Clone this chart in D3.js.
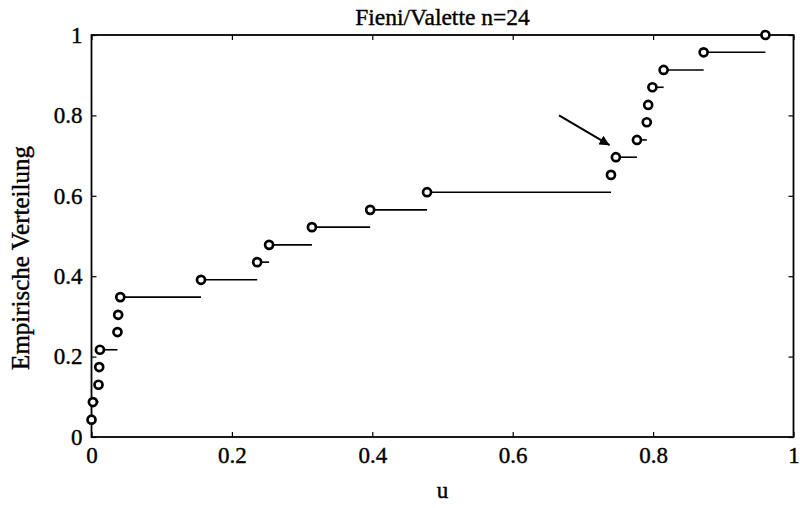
<!DOCTYPE html>
<html>
<head>
<meta charset="utf-8">
<script src="https://cdn.jsdelivr.net/npm/d3@7/dist/d3.min.js"></script>
<style>
  body { margin: 0; background: #fff; }
  svg { display: block; }
  text { font-family: "Liberation Serif", "DejaVu Serif", serif; fill: #000; stroke: #000; stroke-width: 0.4px; }
  .tick text { font-size: 23px; }
  .axis path { display: none; }
  .axis line { stroke: #000; stroke-width: 1.2; }
</style>
</head>
<body>
<svg width="800" height="508"></svg>
<script>
// sorted sample values u_i and the empirical distribution F(u_i)
var uValues = [0.000, 0.002, 0.010, 0.011, 0.012, 0.037, 0.038, 0.041,
               0.156, 0.236, 0.253, 0.314, 0.397, 0.478, 0.740, 0.747,
               0.777, 0.791, 0.793, 0.799, 0.815, 0.872, 0.960];
var fValues = [0.043, 0.087, 0.130, 0.174, 0.217, 0.261, 0.304, 0.348,
               0.391, 0.435, 0.478, 0.522, 0.565, 0.609, 0.652, 0.696,
               0.739, 0.783, 0.826, 0.870, 0.913, 0.957, 1.000];
var xTicks = [0, 0.2, 0.4, 0.6, 0.8, 1];
var yTicks = [0, 0.2, 0.4, 0.6, 0.8, 1];
var arrowFrom = [0.666, 0.80], arrowTo = [0.738, 0.726]; // annotation arrow (data coords)

var svg = d3.select("svg"),
    margin = {top: 35, right: 6.5, bottom: 71, left: 91.5},
    width = +svg.attr("width") - margin.left - margin.right,
    height = +svg.attr("height") - margin.top - margin.bottom;

var g = svg.append("g")
    .attr("transform", "translate(" + margin.left + "," + margin.top + ")");

var x = d3.scaleLinear().domain([0, 1]).range([0, width]);
var y = d3.scaleLinear().domain([0, 1]).range([height, 0]);

var fmt = function (d) { return d === 0 || d === 1 ? d : d3.format(".1f")(d); };

// axes, ticks pointing inward on all four sides
g.append("g").attr("class", "axis")
    .attr("transform", "translate(0," + height + ")")
    .call(d3.axisBottom(x).tickValues(xTicks).tickFormat(fmt).tickSizeInner(-5).tickSizeOuter(0).tickPadding(10));
g.append("g").attr("class", "axis")
    .call(d3.axisTop(x).tickValues(xTicks).tickFormat("").tickSizeInner(-5).tickSizeOuter(0));
g.append("g").attr("class", "axis")
    .call(d3.axisLeft(y).tickValues(yTicks).tickFormat(fmt).tickSizeInner(-5).tickSizeOuter(0).tickPadding(9));
g.append("g").attr("class", "axis")
    .attr("transform", "translate(" + width + ",0)")
    .call(d3.axisRight(y).tickValues(yTicks).tickFormat("").tickSizeInner(-5).tickSizeOuter(0));

g.append("rect")
    .attr("width", width).attr("height", height)
    .attr("fill", "none").attr("stroke", "#000").attr("stroke-width", 1.8);

var pts = uValues.map(function (u, i) { return {u: u, f: fValues[i]}; });

// horizontal steps from each point to the next one
g.append("g").selectAll("line")
    .data(pts.slice(0, -1))
    .enter().append("line")
    .attr("x1", function (d) { return x(d.u); })
    .attr("x2", function (d, i) { return x(pts[i + 1].u); })
    .attr("y1", function (d) { return y(d.f); })
    .attr("y2", function (d) { return y(d.f); })
    .attr("stroke", "#000").attr("stroke-width", 1.6);

g.append("g").selectAll("circle")
    .data(pts)
    .enter().append("circle")
    .attr("cx", function (d) { return x(d.u); })
    .attr("cy", function (d) { return y(d.f); })
    .attr("r", 4)
    .attr("fill", "#fff").attr("stroke", "#000").attr("stroke-width", 2.7);

// arrow
svg.append("defs").append("marker")
    .attr("id", "head").attr("viewBox", "0 0 10 10")
    .attr("refX", 10).attr("refY", 5)
    .attr("markerWidth", 17).attr("markerHeight", 10)
    .attr("markerUnits", "userSpaceOnUse")
    .attr("orient", "auto")
  .append("path").attr("d", "M0,0L10,5L0,10z").attr("fill", "#000");
g.append("line")
    .attr("x1", x(arrowFrom[0])).attr("y1", y(arrowFrom[1]))
    .attr("x2", x(arrowTo[0])).attr("y2", y(arrowTo[1]))
    .attr("stroke", "#000").attr("stroke-width", 2)
    .attr("marker-end", "url(#head)");

svg.append("text")
    .attr("x", margin.left + width / 2).attr("y", 25)
    .attr("text-anchor", "middle").style("font-size", "23.5px")
    .text("Fieni/Valette n=24");

svg.append("text")
    .attr("x", margin.left + width / 2).attr("y", 498)
    .attr("text-anchor", "middle").style("font-size", "23px")
    .text("u");

svg.append("text")
    .attr("transform", "translate(29,258) rotate(-90)")
    .attr("text-anchor", "middle").style("font-size", "25px")
    .text("Empirische Verteilung");
</script>
</body>
</html>
